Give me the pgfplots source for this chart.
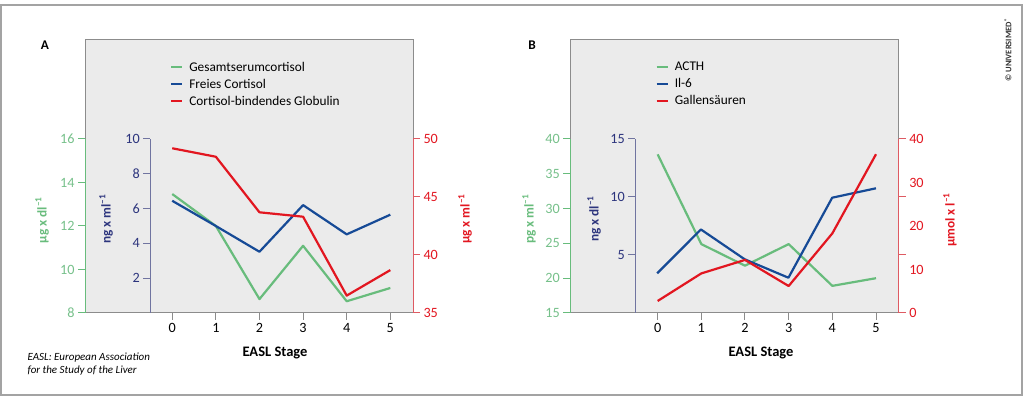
\documentclass[border=0pt]{standalone}
\usepackage{fontspec}
\setmainfont{Carlito}
\usepackage{pgfplots}
\pgfplotsset{compat=1.18}
\definecolor{cgreen}{RGB}{104,188,124}
\definecolor{cgreenlab}{RGB}{118,192,138}
\definecolor{cblue}{RGB}{22,74,150}
\definecolor{cnavy}{RGB}{44,52,125}
\definecolor{cbluespine}{RGB}{112,116,160}
\definecolor{cred}{RGB}{226,22,32}
\definecolor{credspine}{RGB}{222,90,98}
\definecolor{cbox}{RGB}{235,235,235}
\definecolor{cframe}{RGB}{140,140,140}
\newcommand{\tf}{\fontsize{13.3}{15}\selectfont}
\newcommand{\kf}{\fontsize{14.2}{16}\selectfont}
\pgfplotsset{
  base/.style={scale only axis, anchor=south west, xmin=-2, xmax=5.52,
    tick align=outside, major tick length=7pt,
    /pgf/number format/assume math mode=true,
    ticklabel style={font=\kf}, clip=false},
  boxax/.style={base, width=328pt, height=273pt, ymin=0, ymax=1, ytick=\empty,
    xtick={0,...,5}, xtick pos=left,
    axis background/.style={fill=cbox},
    axis line style={cframe, line width=1pt},
    x tick style={cframe, line width=1pt},
    xticklabel style={black},
    legend style={draw=none, fill=none, font=\tf, row sep=2.2pt, inner sep=0pt},
    legend cell align=left,
    legend image code/.code={\draw[##1, line width=2pt] (0pt,0pt) -- (11pt,0pt); \path (16pt,0pt);}},
  leftax/.style={base, width=328pt, height=174pt, axis x line=none, axis y line*=left,
    axis line style={cgreen, line width=1pt}, y tick style={cgreen, line width=1pt},
    yticklabel style={cgreenlab}},
  blueax/.style={base, xmin=-0.5, width=262.6pt, height=174pt, axis x line=none, axis y line*=left,
    axis line style={cbluespine, line width=1pt}, y tick style={cbluespine, line width=1pt},
    yticklabel style={cnavy}},
  redax/.style={base, width=328pt, height=174pt, axis x line=none, axis y line*=right,
    axis line style={credspine, line width=1pt}, y tick style={credspine, line width=1pt},
    yticklabel style={cred}},
  ln/.style={line width=2.2pt, line join=round}
}
\begin{document}
\begin{tikzpicture}
\useasboundingbox (0pt,0pt) rectangle (1024pt,398pt);
\draw[cframe!80, line width=1.8pt] (1pt,3pt) rectangle (1022pt,393pt);
% ---------------- Panel A ----------------
\begin{axis}[boxax, at={(85pt,85pt)},
  legend style={at={(rel axis cs:0.259,0.927)}, anchor=north west}]
\addlegendimage{cgreen}\addlegendentry{Gesamtserumcortisol}
\addlegendimage{cblue}\addlegendentry{Freies Cortisol}
\addlegendimage{cred}\addlegendentry{Cortisol-bindendes Globulin}
\end{axis}
\begin{axis}[leftax, at={(85pt,85pt)}, ymin=8, ymax=16, ytick={8,10,...,16}]
\addplot[cgreen, ln] coordinates {(0,13.47) (1,12.0) (2,8.64) (3,11.09) (4,8.54) (5,9.15)};
\end{axis}
\begin{axis}[blueax, at={(150.4pt,85pt)}, ymin=0, ymax=10, ytick={2,4,...,10}]
\addplot[cblue, ln] coordinates {(0,6.45) (1,5.0) (2,3.52) (3,6.2) (4,4.52) (5,5.65)};
\end{axis}
\begin{axis}[redax, at={(85pt,85pt)}, ymin=35, ymax=50, ytick={35,40,...,50}]
\addplot[cred, ln] coordinates {(0,49.2) (1,48.47) (2,43.68) (3,43.3) (4,36.5) (5,38.7)};
\end{axis}
\node[font=\tf\bfseries] at (45pt,353pt) {A};
\node[rotate=90, font=\tf\bfseries, text=cgreen] at (42pt,178pt) {µg x dl\textsuperscript{–1}};
\node[rotate=90, font=\tf\bfseries, text=cnavy] at (106pt,179pt) {ng x ml\textsuperscript{–1}};
\node[rotate=90, font=\tf\bfseries, text=cred] at (465pt,179pt) {µg x ml\textsuperscript{–1}};
\node[font=\fontsize{14.5}{16}\selectfont\bfseries] at (275pt,45.3pt) {EASL Stage};
\node[font=\fontsize{11}{13}\selectfont\itshape, anchor=west, align=left] at (24pt,34pt) {EASL: European Association\\for the Study of the Liver};
% ---------------- Panel B ----------------
\begin{axis}[boxax, at={(570.3pt,85pt)}, width=328.4pt,
  legend style={at={(rel axis cs:0.259,0.927)}, anchor=north west}]
\addlegendimage{cgreen}\addlegendentry{ACTH}
\addlegendimage{cblue}\addlegendentry{Il-6}
\addlegendimage{cred}\addlegendentry{Gallensäuren}
\end{axis}
\begin{axis}[leftax, at={(570.3pt,85pt)}, width=328.4pt, ymin=15, ymax=40, ytick={15,20,...,40}]
\addplot[cgreen, ln] coordinates {(0,37.8) (1,24.9) (2,21.8) (3,24.9) (4,18.9) (5,20.0)};
\end{axis}
\begin{axis}[blueax, at={(635.3pt,85pt)}, width=263.4pt, ymin=0, ymax=15, ytick={5,10,15}]
\addplot[cblue, ln] coordinates {(0,3.42) (1,7.2) (2,4.63) (3,3.04) (4,9.94) (5,10.75)};
\end{axis}
\begin{axis}[redax, at={(570.3pt,85pt)}, width=328.4pt, ymin=0, ymax=40,
  ytick={0,13.333,26.667,40}, yticklabels={0,,,40},
  extra y ticks={10,20,30}, extra y tick labels={10,20,30},
  extra y tick style={major tick length=0pt, yticklabel style={xshift=7pt}}]
\addplot[cred, ln] coordinates {(0,2.76) (1,9.1) (2,12.2) (3,6.2) (4,18.3) (5,36.5)};
\end{axis}
\node[font=\tf\bfseries] at (532pt,353pt) {B};
\node[rotate=90, font=\tf\bfseries, text=cgreen] at (529pt,179pt) {pg x ml\textsuperscript{–1}};
\node[rotate=90, font=\tf\bfseries, text=cnavy] at (594pt,179pt) {ng x dl\textsuperscript{–1}};
\node[rotate=90, font=\tf\bfseries, text=cred] at (950pt,178pt) {µmol x l\textsuperscript{–1}};
\node[font=\fontsize{14.5}{16}\selectfont\bfseries] at (761pt,45.3pt) {EASL Stage};
\node[rotate=90, font=\fontsize{8.5}{9}\selectfont\bfseries, text=black!80] at (1008pt,348pt) {© UNIVERSIMED\textsuperscript{®}};
\end{tikzpicture}
\end{document}
